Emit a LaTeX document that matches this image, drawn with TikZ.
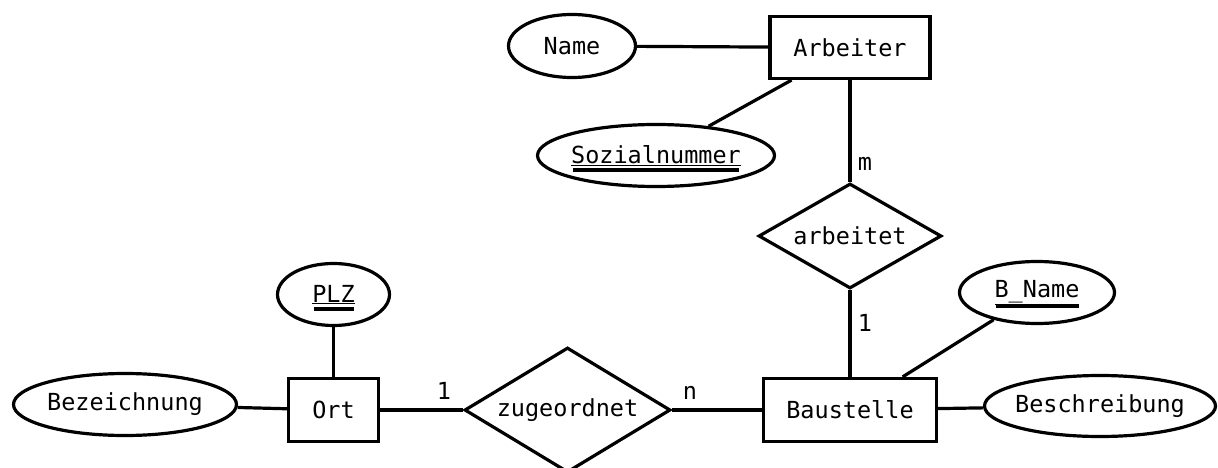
\documentclass[tikz,border=0pt]{standalone}
\usepackage{fontspec}
\setmonofont{DejaVu Sans Mono}
\usetikzlibrary{shapes.geometric,calc}
\begin{document}
\begin{tikzpicture}[x=1pt,y=-1pt,
  every node/.style={font=\ttfamily\fontsize{23.5}{28}\selectfont, text=black},
  entity/.style={draw, line width=3.2pt, rectangle, inner sep=0pt},
  attr/.style={draw, line width=3.2pt, ellipse, inner sep=0pt},
  rel/.style={draw, line width=3.2pt, diamond, inner sep=0pt},
  conn/.style={line width=3.2pt},
  card/.style={anchor=base, inner sep=0pt},
  keybar/.style={line width=3.4pt}]
\useasboundingbox (0,0) rectangle (1218,468);
% entities
\node[entity, minimum width=160pt, minimum height=62pt] (arb) at (850,47.5) {\makebox[0pt]{Arbeiter}};
\node[entity, minimum width=173pt, minimum height=63pt] (bau) at (850,410) {\makebox[0pt]{Baustelle}};
\node[entity, minimum width=90pt, minimum height=63pt] (ort) at (333.5,410) {\makebox[0pt]{Ort}};
% relationships
\node[rel, minimum width=183pt, minimum height=105pt] (arbt) at (850,236) {\makebox[0pt]{arbeitet}};
\node[rel, minimum width=206pt, minimum height=125pt] (zug) at (567.5,410) {\makebox[0pt]{zugeordnet}};
% attributes
\node[attr, minimum width=127pt, minimum height=63pt] (name) at (572,46) {\makebox[0pt]{Name}};
\node[attr, minimum width=237pt, minimum height=62pt] (soz) at (656,155.5) {\makebox[0pt]{\underline{Sozialnummer}}};
\node[attr, minimum width=155pt, minimum height=62pt] (bname) at (1037,292.5) {\makebox[0pt]{\underline{B\_Name}}};
\node[attr, minimum width=231pt, minimum height=61pt] (besch) at (1100,406) {\makebox[0pt]{Beschreibung}};
\node[attr, minimum width=112pt, minimum height=62pt] (plz) at (333.5,294.5) {\makebox[0pt]{\underline{PLZ}}};
\node[attr, minimum width=223pt, minimum height=62pt] (bez) at (125,404.5) {\makebox[0pt]{Bezeichnung}};
% key bars
\draw[keybar] ($(soz.center)+(-83,14.5)$) -- ($(soz.center)+(83,14.5)$);
\draw[keybar] ($(bname.center)+(-41,13.5)$) -- ($(bname.center)+(42,13.5)$);
\draw[keybar] ($(plz.center)+(-20,14.5)$) -- ($(plz.center)+(20,14.5)$);
% connectors
\draw[conn] (name) -- (arb);
\draw[conn] (soz) -- (arb);
\draw[conn] (arb) -- (arbt);
\draw[conn] (arbt) -- (bau);
\draw[conn] (bname) -- (bau);
\draw[conn] (bau) -- (besch);
\draw[conn] (plz) -- (ort);
\draw[conn] (bez) -- (ort);
\draw[conn] (ort) -- (zug);
\draw[conn] (zug) -- (bau);
% cardinalities
\node[card] (cm) at (865,170) {m};
\node[card] (c1a) at (865,331) {1};
\node[card] (c1b) at (444,399) {1};
\node[card] (cn) at (690,399) {n};
\end{tikzpicture}
\end{document}
